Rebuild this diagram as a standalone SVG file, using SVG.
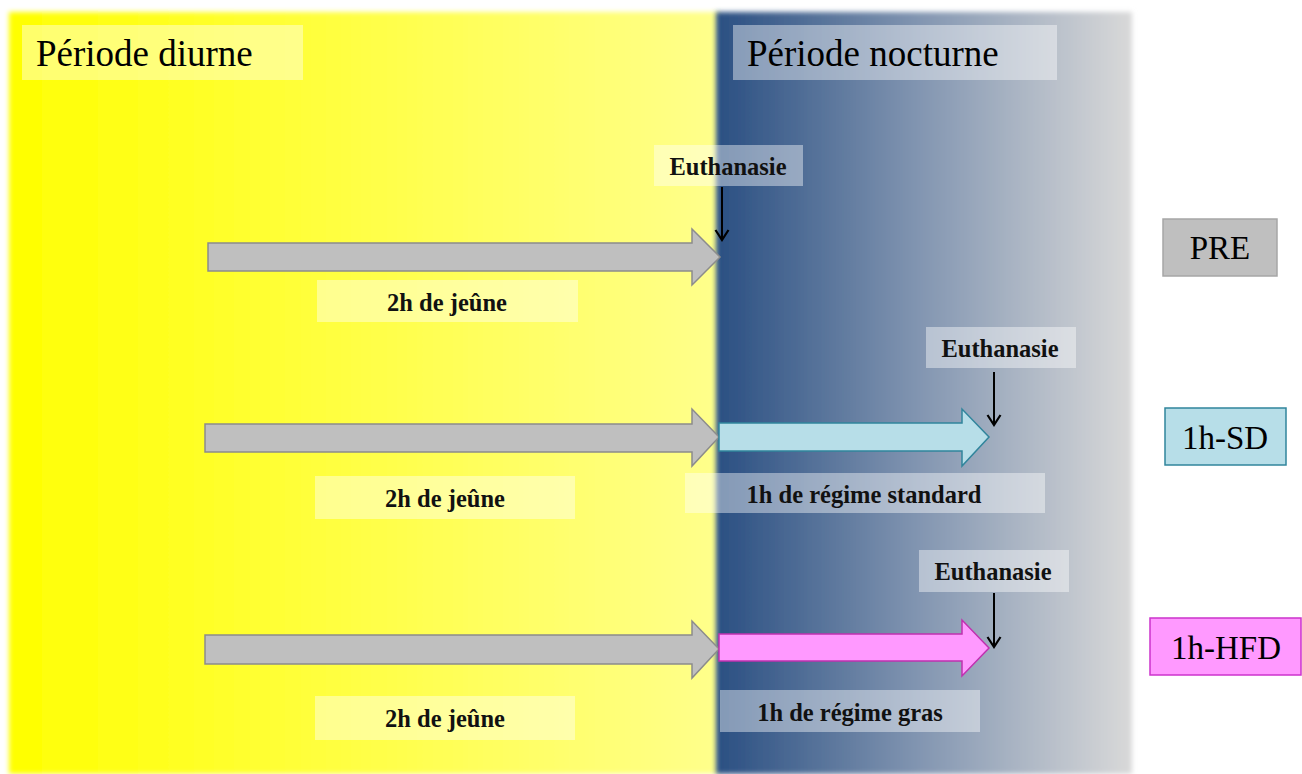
<svg xmlns="http://www.w3.org/2000/svg" width="1302" height="774" viewBox="0 0 1302 774">
  <style>
    .title { font-family: "Liberation Serif", "DejaVu Serif", serif; font-size: 37px; fill: #000; }
    .lbl { font-family: "Liberation Serif", "DejaVu Serif", serif; font-size: 24.5px; font-weight: bold; fill: #111; text-anchor: middle; }
    .tag { font-family: "Liberation Serif", "DejaVu Serif", serif; font-size: 33px; fill: #000; text-anchor: middle; }
    .veil { fill: #ffffff; fill-opacity: 0.42; }
    .grayArrow { fill: #BFBFBF; stroke: #8C8C8C; stroke-width: 1.5; }
    .sdArrow { fill: #B7DEE8; stroke: #31859C; stroke-width: 1.5; }
    .hfdArrow { fill: #FF99FF; stroke: #C030B0; stroke-width: 1.5; }
    .conn { stroke: #000; stroke-width: 2; fill: none; }
  </style>
  <defs>
    <linearGradient id="day" x1="0" y1="0" x2="1" y2="0">
      <stop offset="0" stop-color="#FFFF00"/>
      <stop offset="1" stop-color="#FFFF8C"/>
    </linearGradient>
    <linearGradient id="night" x1="0" y1="0" x2="1" y2="0">
      <stop offset="0" stop-color="#2A4F82"/>
      <stop offset="0.5" stop-color="#8497B2"/>
      <stop offset="1" stop-color="#D9D9D9"/>
    </linearGradient>
    <filter id="soft" x="-5%" y="-5%" width="110%" height="110%">
      <feGaussianBlur stdDeviation="2.5"/>
    </filter>
    <marker id="vhead" viewBox="0 0 16 16" refX="14" refY="8" markerWidth="16" markerHeight="16" markerUnits="userSpaceOnUse" orient="auto">
      <path d="M4,1.5 L14,8 L4,14.5" fill="none" stroke="#000" stroke-width="2.2"/>
    </marker>
  </defs>

  <rect width="1302" height="774" fill="#ffffff"/>

  <g id="day-panel">
    <rect x="9" y="12" width="710" height="762" fill="url(#day)" filter="url(#soft)"/>
  </g>
  <g id="night-panel">
    <rect x="716" y="12" width="416" height="762" fill="url(#night)" filter="url(#soft)"/>
  </g>

  <g id="title-day">
    <rect class="veil" x="22" y="25" width="281" height="55"/>
    <text class="title" x="36" y="66">Période diurne</text>
  </g>
  <g id="title-night">
    <rect class="veil" x="733" y="25" width="324" height="55"/>
    <text class="title" x="747" y="66">Période nocturne</text>
  </g>

  <!-- Row 1: PRE -->
  <g id="pre-fast-arrow">
    <polygon class="grayArrow" points="208,243 692,243 692,229 720,257 692,285 692,271 208,271"/>
  </g>
  <g id="pre-fast-label">
    <rect class="veil" x="317" y="280" width="261" height="42"/>
    <text class="lbl" x="447" y="311">2h de jeûne</text>
  </g>
  <g id="pre-euth">
    <rect class="veil" x="654" y="145" width="149" height="41"/>
    <text class="lbl" x="728" y="175">Euthanasie</text>
  </g>
  <g id="pre-tag">
    <rect x="1163" y="219" width="114" height="57" fill="#BFBFBF" stroke="#A6A6A6" stroke-width="1.5"/>
    <text class="tag" x="1220" y="259">PRE</text>
  </g>

  <!-- Row 2: 1h-SD -->
  <g id="sd-fast-arrow">
    <polygon class="grayArrow" points="205,424 692,424 692,409 719,437 692,466 692,452 205,452"/>
  </g>
  <g id="sd-fast-label">
    <rect class="veil" x="315" y="476" width="260" height="43"/>
    <text class="lbl" x="445" y="507">2h de jeûne</text>
  </g>
  <g id="sd-diet-arrow">
    <polygon class="sdArrow" points="719,423 962,423 962,409 989,437 962,466 962,451 719,451"/>
  </g>
  <g id="sd-diet-label">
    <rect class="veil" x="685" y="473" width="360" height="40"/>
    <text class="lbl" x="864" y="503">1h de régime standard</text>
  </g>
  <g id="sd-euth">
    <rect class="veil" x="926" y="327" width="150" height="41"/>
    <text class="lbl" x="1000" y="357">Euthanasie</text>
  </g>
  <g id="sd-tag">
    <rect x="1165" y="408" width="121" height="57" fill="#B7DEE8" stroke="#31859C" stroke-width="1.5"/>
    <text class="tag" x="1225" y="449">1h-SD</text>
  </g>

  <!-- Row 3: 1h-HFD -->
  <g id="hfd-fast-arrow">
    <polygon class="grayArrow" points="205,635 692,635 692,621 719,649 692,678 692,664 205,664"/>
  </g>
  <g id="hfd-fast-label">
    <rect class="veil" x="315" y="696" width="260" height="44"/>
    <text class="lbl" x="445" y="727">2h de jeûne</text>
  </g>
  <g id="hfd-diet-arrow">
    <polygon class="hfdArrow" points="719,634 962,634 962,620 989,648 962,676 962,661 719,661"/>
  </g>
  <g id="hfd-diet-label">
    <rect class="veil" x="720" y="690" width="260" height="42"/>
    <text class="lbl" x="850" y="721">1h de régime gras</text>
  </g>
  <g id="hfd-euth">
    <rect class="veil" x="919" y="550" width="150" height="42"/>
    <text class="lbl" x="993" y="580">Euthanasie</text>
  </g>
  <g id="hfd-tag">
    <rect x="1150" y="618" width="151" height="57" fill="#FF99FF" stroke="#CC33CC" stroke-width="1.5"/>
    <text class="tag" x="1226" y="659">1h-HFD</text>
  </g>

  <g id="connectors">
    <line class="conn" x1="722" y1="187" x2="722" y2="240" marker-end="url(#vhead)"/>
    <line class="conn" x1="994" y1="372" x2="994" y2="425" marker-end="url(#vhead)"/>
    <line class="conn" x1="994" y1="593" x2="994" y2="647" marker-end="url(#vhead)"/>
  </g>
</svg>
